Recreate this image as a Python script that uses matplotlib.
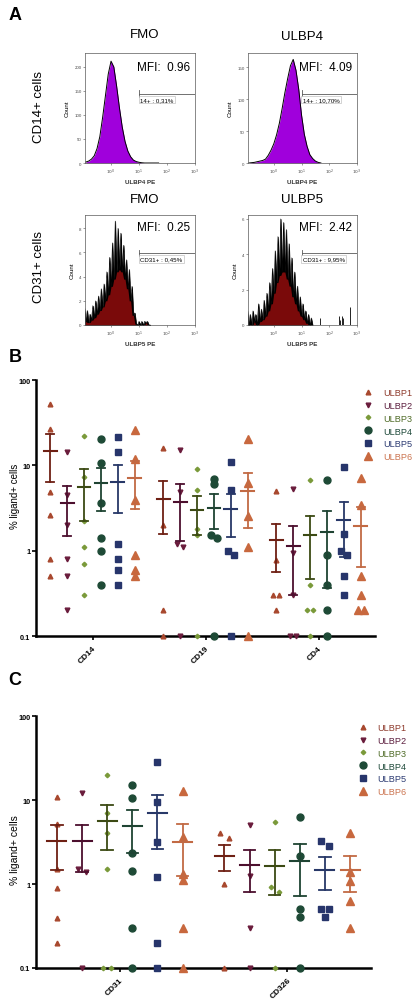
import numpy as np
import matplotlib
matplotlib.use('Agg')
import matplotlib.pyplot as plt
from matplotlib.lines import Line2D
from matplotlib.ticker import NullLocator

plt.rcParams['font.family'] = ['Liberation Sans', 'DejaVu Sans']

W, H = 418, 1004

series = ['ULBP1', 'ULBP2', 'ULBP3', 'ULBP4', 'ULBP5', 'ULBP6']
b_groups = ['CD14', 'CD19', 'CD4']
c_groups = ['CD31', 'CD326']

# ---- panel A: flow histograms (log10 of ULBP-PE, counts) ----
cd14_x = np.round(np.arange(-0.9, 1.75, 0.1), 2)
cd14_fmo = [2, 4, 8, 15, 30, 55, 95, 140, 185, 212, 200, 160, 115, 75, 45, 25, 13, 6, 3, 1.5, 0.5, 0, 0, 0, 0, 0, 0]
cd14_ulbp4 = [0, 0.5, 1, 2, 3, 4, 6, 12, 20, 30, 44, 62, 85, 110, 132, 152, 162, 145, 115, 75, 45, 26, 13, 7, 3, 1, 0]

cd31_x = np.round(np.arange(-0.95, 1.45, 0.05), 2)
cd31_fmo = [1.4, 0.3, 1.2, 0.2, 0.9, 0.4, 1.6, 0.6, 2.0, 0.9, 2.4, 1.2, 3.0, 1.5, 3.4, 2.0,
            4.4, 2.5, 5.6, 3.2, 6.8, 3.8, 8.6, 4.4, 8.0, 4.6, 7.6, 4.4, 6.6, 3.8, 5.4, 3.0,
            4.6, 2.0, 3.2, 0.8, 1.0, 0.1, 0, 0.3, 0, 0.3, 0, 0.3, 0.2, 0.3, 0, 0]
cd31_ulbp5 = [0.8, 0.0, 0.6, 0.0, 0.8, 0.2, 0.6, 0.0, 1.2, 0.2, 0.9, 0.3, 1.4, 0.5, 1.8, 0.8,
              2.4, 1.2, 3.2, 1.8, 4.2, 2.4, 5.0, 2.8, 6.0, 3.0, 5.8, 3.0, 5.4, 2.6, 4.6, 2.2,
              3.8, 1.6, 3.0, 1.2, 2.2, 0.8, 1.6, 0.5, 1.2, 0.3, 0.8, 0.1, 0.6, 0, 0.4, 0]
cd31_ulbp5_far_x = [1.65, 2.35, 2.40, 2.45, 2.50, 2.75]
cd31_ulbp5_far = [0.4, 0.5, 0.3, 0.5, 0.4, 1.0]

# ---- panel B: % ligand+ cells (values at axis floor drawn at 0.1) ----
cd14_pts = [[52, 27, 4.9, 2.6, 0.8, 0.5],
            [14.2, 4.5, 2.0, 0.8, 0.5, 0.2],
            [22.3, 7.3, 2.2, 1.1, 0.7, 0.3],
            [20.2, 10.6, 3.64, 1.41, 1.0, 0.4],
            [21.7, 14.2, 1.21, 0.8, 0.6, 0.4],
            [25.6, 11.8, 3.9, 0.9, 0.6, 0.51]]
cd19_pts = [[15.8, 2.0, 0.2, 0.1],
            [15.1, 4.9, 1.21, 1.1, 0.1],
            [9.0, 5.2, 1.81, 1.51, 0.1],
            [7.0, 5.98, 1.54, 1.42, 0.1],
            [11.0, 5.2, 1.0, 0.9, 0.1],
            [20.2, 6.25, 2.56, 1.1, 0.1]]
cd4_pts = [[4.99, 0.77, 0.3, 0.3, 0.2],
           [5.26, 0.95, 0.3, 0.1, 0.1],
           [6.7, 0.4, 0.2, 0.2, 0.1],
           [6.7, 0.9, 0.4, 0.2, 0.1],
           [9.5, 1.58, 1.0, 0.9, 0.5, 0.3],
           [7.2, 3.41, 0.5, 0.3, 0.2, 0.2]]
b_mean = [[14.9, 3.64, 5.6, 6.15, 6.43, 7.16],
          [4.05, 3.7, 2.98, 3.18, 3.06, 5.04],
          [1.32, 1.12, 1.51, 1.66, 2.27, 1.95]]
b_sem = [[8.5, 2.16, 3.4, 3.2, 3.7, 4.1],
         [2.5, 2.4, 1.45, 1.38, 1.6, 3.2],
         [0.76, 0.82, 1.05, 1.29, 1.42, 1.3]]

# ---- panel C ----
cd31_pts = [[11.0, 5.18, 1.51, 0.9, 0.39, 0.2],
            [12.1, 1.51, 1.4, 0.1],
            [20, 7.0, 4.1, 1.51, 0.1, 0.1],
            [15.2, 10.5, 2.34, 1.42, 0.3, 0.1],
            [28, 9.4, 3.13, 1.2, 0.2, 0.1],
            [12.7, 3.6, 1.31, 1.12, 0.3, 0.1]]
cd326_pts = [[4.0, 3.53, 1.0, 0.1],
             [5.08, 1.26, 0.3, 0.1],
             [5.42, 0.91, 0.81, 0.1],
             [6.2, 2.14, 0.5, 0.4, 0.1],
             [3.22, 2.86, 0.5, 0.5, 0.4],
             [4.04, 1.4, 1.1, 0.62, 0.3]]
c_mean = [[3.28, 3.23, 5.66, 4.94, 7.0, 3.19],
          [2.17, 1.68, 1.65, 1.86, 1.48, 1.48]]
c_sem = [[1.8, 1.85, 3.1, 2.6, 4.4, 1.94],
         [0.74, 0.88, 0.92, 1.14, 0.64, 0.67]]

# styles
markers = ['^', 'v', 'D', 'o', 's', '^']
msizes = [3.4, 3.4, 2.3, 5.0, 4.6, 6.2]
mcolors = ['#a8482e', '#6a1c3c', '#7a9a3a', '#1e4a36', '#27356b', '#c8683e']
lcolors = ['#6e2014', '#4c0f2e', '#3c4a14', '#1f4433', '#283868', '#c26a44']
tcolors = ['#8e3a2c', '#5c1e3e', '#506c28', '#1f4a3a', '#2d3c73', '#cb7450']
purple = '#a000dc'
darkred = '#7a0a0a'

fig = plt.figure(figsize=(W / 100, H / 100), dpi=100)


def px_axes(l, t, r, b):
    return fig.add_axes([l / W, 1 - b / H, (r - l) / W, (b - t) / H])


def hist_style(ax, ymax, yticks, xlabel):
    ax.set_xscale('log')
    ax.set_xlim(10 ** -0.93, 1e3)
    ax.set_ylim(0, ymax)
    ax.set_xticks([1, 10, 100, 1000])
    ax.set_xticklabels([r'$10^{0}$', r'$10^{1}$', r'$10^{2}$', r'$10^{3}$'])
    ax.xaxis.set_minor_locator(NullLocator())
    ax.set_yticks(yticks)
    ax.tick_params(labelsize=3.2, length=1.5, width=0.4, pad=1, colors='0.3')
    for s in ax.spines.values():
        s.set_linewidth(0.5)
        s.set_color('0.35')
    ax.set_ylabel('Count', fontsize=4.5, labelpad=3)
    ax.set_xlabel(xlabel, fontsize=4.5, fontweight='bold', labelpad=2, color='0.2')


def gate(ax, gy, label):
    tr = ax.get_xaxis_transform()
    ax.plot([10, 1000], [gy, gy], transform=tr, color='0.35', lw=0.6)
    ax.plot([10, 10], [gy - 0.03, gy + 0.03], transform=tr, color='0.35', lw=0.6)
    ax.text(11, gy - 0.03, label, transform=tr, fontsize=4.4, va='top', ha='left',
            bbox=dict(boxstyle='square,pad=0.2', fc='white', ec='0.7', lw=0.4))


def smooth_hist(ax, x, c):
    ax.fill_between(10 ** x, c, color=purple, lw=0)
    ax.plot(10 ** x, c, color='k', lw=0.7)


def spiky_hist(ax, x, c):
    c = np.array(c, dtype=float)
    low = np.minimum(np.minimum(c, np.roll(c, 1)), np.roll(c, -1))
    ax.fill_between(10 ** x, c, color='k', lw=0.4)
    ax.plot(10 ** x, c, color='k', lw=0.4)
    ax.fill_between(10 ** x, low, color=darkred, lw=0)


# Panel A
ax = px_axes(85, 54, 195, 164)
smooth_hist(ax, cd14_x, cd14_fmo)
hist_style(ax, 229, [0, 50, 100, 150, 200], 'ULBP4 PE')
gate(ax, 0.63, '14+ : 0,31%')
ax.text(0.955, 0.875, 'MFI:  0.96', transform=ax.transAxes, ha='right', va='center', fontsize=8.5)

ax = px_axes(248, 54, 357, 164)
smooth_hist(ax, cd14_x, cd14_ulbp4)
hist_style(ax, 172, [0, 50, 100, 150], 'ULBP4 PE')
gate(ax, 0.63, '14+ : 10,70%')
ax.text(0.951, 0.875, 'MFI:  4.09', transform=ax.transAxes, ha='right', va='center', fontsize=8.5)

ax = px_axes(85, 216, 195, 326)
spiky_hist(ax, cd31_x, cd31_fmo)
hist_style(ax, 9.1, [0, 2, 4, 6, 8], 'ULBP5 PE')
gate(ax, 0.653, 'CD31+ : 0,45%')
ax.text(0.955, 0.894, 'MFI:  0.25', transform=ax.transAxes, ha='right', va='center', fontsize=8.5)

ax = px_axes(248, 216, 357, 326)
spiky_hist(ax, cd31_x, cd31_ulbp5)
ax.vlines(10 ** np.array(cd31_ulbp5_far_x), 0, cd31_ulbp5_far, color='k', lw=0.6)
hist_style(ax, 6.22, [0, 2, 4, 6], 'ULBP5 PE')
gate(ax, 0.653, 'CD31+ : 9,95%')
ax.text(0.951, 0.894, 'MFI:  2.42', transform=ax.transAxes, ha='right', va='center', fontsize=8.5)

for x, y, t in [(145, 35, 'FMO'), (302, 37, 'ULBP4'), (145, 200, 'FMO'), (302, 200, 'ULBP5')]:
    fig.text(x / W, 1 - y / H, t, ha='center', va='center', fontsize=9.5)
fig.text(39 / W, 1 - 107 / H, 'CD14+ cells', rotation=90, ha='center', va='center', fontsize=9.5)
fig.text(39 / W, 1 - 267 / H, 'CD31+ cells', rotation=90, ha='center', va='center', fontsize=9.5)
for y, t in [(16, 'A'), (357, 'B'), (681, 'C')]:
    fig.text(15 / W, 1 - y / H, t, ha='center', va='center', fontsize=13, fontweight='bold')


# Panels B and C
def spread(xc, vals, d=0.025):
    lv = np.log10(vals)
    xs = np.full(len(vals), float(xc))
    used = np.zeros(len(vals), bool)
    for i in range(len(vals)):
        if used[i]:
            continue
        idx = [j for j in range(len(vals)) if not used[j] and abs(lv[j] - lv[i]) < 0.06]
        for r, j in enumerate(idx):
            xs[j] = xc + (r - (len(idx) - 1) / 2) * 2 * d
            used[j] = True
    return xs


def scatter_panel(ax, groups, pts, means, sems, ylab_size, ylab_y):
    for g in range(len(groups)):
        for k in range(6):
            xc = g + (k - 2.5) * 0.15
            vals = np.array(pts[g][k], dtype=float)
            ax.plot(spread(xc, vals), vals, ls='none', marker=markers[k], ms=msizes[k],
                    color=mcolors[k], mec=mcolors[k], clip_on=False, zorder=4)
            m, s = means[g][k], sems[g][k]
            lc = lcolors[k]
            ax.plot([xc - 0.057, xc + 0.057], [m, m], color=lc, lw=1.5, zorder=5)
            ax.plot([xc, xc], [m - s, m + s], color=lc, lw=1.3, zorder=5)
            for v in (m - s, m + s):
                ax.plot([xc - 0.034, xc + 0.034], [v, v], color=lc, lw=1.3, zorder=5)
    ax.set_yscale('log')
    ax.set_ylim(0.1, 100)
    ax.set_xlim(-0.5, len(groups) - 0.5)
    ax.set_yticks([0.1, 1, 10, 100])
    ax.set_yticklabels(['0.1', '1', '10', '100'], fontweight='bold')
    ax.yaxis.set_minor_locator(NullLocator())
    ax.set_xticks(range(len(groups)))
    ax.set_xticklabels(groups, rotation=45, ha='right', va='top', rotation_mode='anchor',
                       fontweight='bold', fontsize=6)
    ax.tick_params(axis='y', labelsize=5.3, length=3, width=1.2, pad=1)
    ax.tick_params(axis='x', length=3, width=1.2, pad=3)
    for s in ['top', 'right']:
        ax.spines[s].set_visible(False)
    for s in ['left', 'bottom']:
        ax.spines[s].set_linewidth(1.8)
    ax.set_ylabel('% ligand+ cells', fontsize=ylab_size)
    ax.yaxis.set_label_coords(-16 / (ax.get_position().width * W), ylab_y)


def legend(x, y):
    handles = [Line2D([], [], ls='none', marker=markers[k], ms=msizes[k], color=mcolors[k])
               for k in range(6)]
    leg = fig.legend(handles, series, loc='upper left', bbox_to_anchor=(x / W, 1 - y / H),
                     frameon=False, fontsize=6.6, handlelength=1, handletextpad=1.1,
                     labelspacing=0.42, borderaxespad=0, borderpad=0)
    for t, c in zip(leg.get_texts(), tcolors):
        t.set_color(c)


ax = px_axes(36, 381, 375, 637)
scatter_panel(ax, b_groups, [cd14_pts, cd19_pts, cd4_pts], b_mean, b_sem, 7, 0.55)
legend(363.5, 389)

ax = px_axes(36, 717, 371, 969)
scatter_panel(ax, c_groups, [cd31_pts, cd326_pts], c_mean, c_sem, 7.5, 0.47)
legend(358.5, 724)

fig.savefig('out.png', dpi=100)
